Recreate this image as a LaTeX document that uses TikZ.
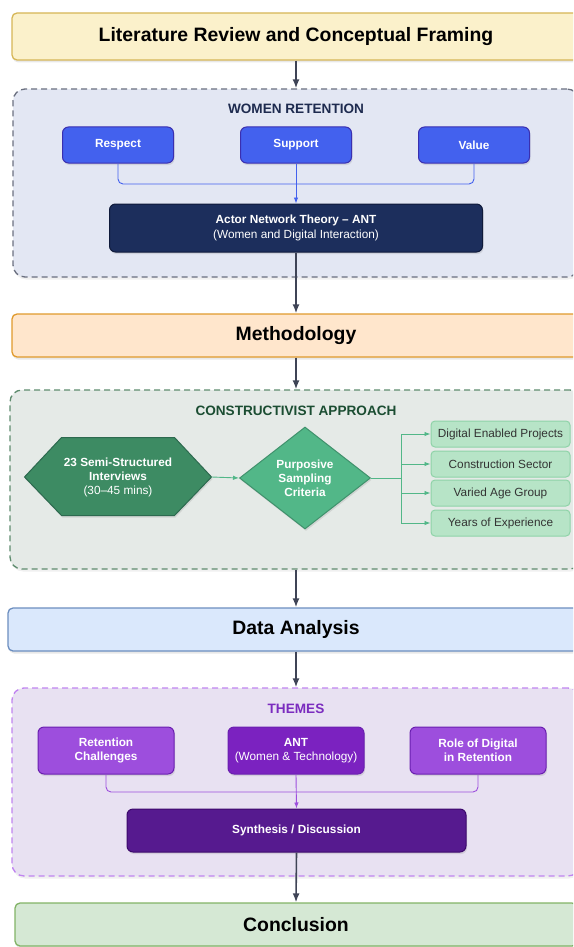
\documentclass[tikz,border=0pt]{standalone}
\usepackage{fontspec}
\setmainfont{Liberation Sans}
\usepackage[usenames,dvipsnames]{xcolor}
\usetikzlibrary{arrows,arrows.meta,shapes.geometric,shadows}

\definecolor{LitFill}{HTML}{FBF1CB}
\definecolor{LitLine}{HTML}{D6B656}
\definecolor{MetFill}{HTML}{FFE6CC}
\definecolor{MetLine}{HTML}{E09A2C}
\definecolor{AnaFill}{HTML}{DAE8FC}
\definecolor{AnaLine}{HTML}{6C8EBF}
\definecolor{ConFill}{HTML}{D5E8D4}
\definecolor{ConLine}{HTML}{82B366}
\definecolor{RetFill}{HTML}{E3E7F3}
\definecolor{RetLine}{HTML}{6B7080}
\definecolor{RetTitle}{HTML}{1E2B4F}
\definecolor{BlueFill}{HTML}{4361EE}
\definecolor{BlueLine}{HTML}{3A2FB0}
\definecolor{NavyFill}{HTML}{1C2E5C}
\definecolor{NavyLine}{HTML}{0F1A3A}
\definecolor{AppFill}{HTML}{E5EAE7}
\definecolor{AppLine}{HTML}{5E8C6E}
\definecolor{AppTitle}{HTML}{1B4D32}
\definecolor{HexFill}{HTML}{3D8B63}
\definecolor{HexLine}{HTML}{2D6A4F}
\definecolor{DiaFill}{HTML}{52B788}
\definecolor{DiaLine}{HTML}{40916C}
\definecolor{CritFill}{HTML}{B7E4C7}
\definecolor{CritLine}{HTML}{8FD3A8}
\definecolor{ThmFill}{HTML}{E8E1F2}
\definecolor{ThmLine}{HTML}{C084F0}
\definecolor{ThmTitle}{HTML}{7B2CBF}
\definecolor{PurFill}{HTML}{9D4EDD}
\definecolor{PurMid}{HTML}{7B22C0}
\definecolor{PurLine}{HTML}{6A1FB0}
\definecolor{PurDark}{HTML}{561A8F}
\definecolor{PurDarkLine}{HTML}{3C096C}
\definecolor{EdgeGray}{HTML}{3F4456}

\tikzset{
  PhaseBox/.style 2 args={rectangle, rounded corners=5pt, fill=#1, draw=#2,
    line width=1.3pt, text=black, font=\fontsize{19.4}{22}\selectfont\bfseries,
    drop shadow={opacity=0.18, shadow xshift=1pt, shadow yshift=-2.5pt}},
  GroupBox/.style 2 args={rectangle, rounded corners=12pt, fill=#1, draw=#2,
    line width=1.3pt, dash pattern=on 6pt off 4pt,
    drop shadow={opacity=0.12, shadow xshift=1pt, shadow yshift=-2.5pt}},
  GroupTitle/.style={text=#1, font=\fontsize{13.6}{16}\selectfont\bfseries},
  InnerBox/.style 2 args={rectangle, rounded corners=6pt, fill=#1, draw=#2,
    line width=1pt, text=white, align=center, inner sep=0pt,
    font=\fontsize{11.8}{14.5}\selectfont,
    drop shadow={opacity=0.2, shadow xshift=1pt, shadow yshift=-2pt}},
  BoldText/.style={font=\fontsize{11.8}{14.5}\selectfont\bfseries},
  CritBox/.style={rectangle, rounded corners=4pt, fill=CritFill, draw=CritLine,
    line width=1pt, text=black!80, minimum width=139pt, minimum height=26pt,
    inner sep=0pt, font=\fontsize{11.8}{13}\selectfont},
  MainEdge/.style={-{Latex[length=9pt,width=7pt]}, line width=1.6pt, draw=EdgeGray},
  JoinEdge/.style={line width=0.9pt, draw=#1, rounded corners=5pt},
  SmallTip/.style={-{Latex[length=6pt,width=4.5pt]}},
}

\begin{document}
\begin{tikzpicture}[x=1pt,y=-1pt]
\useasboundingbox (0,0) rectangle (573,947);
\clip (0,0) rectangle (573,947);

% level 1

\node[PhaseBox={LitFill}{LitLine}, minimum width=568pt, minimum height=47pt] (lit) at (296,36.5) {Literature Review and Conceptual Framing};

\node[GroupBox={RetFill}{RetLine}, minimum width=566pt, minimum height=188pt] (retention) at (296,183) {};
\node[GroupTitle=RetTitle] (rettitle) at (296,109) {WOMEN RETENTION};

\node[InnerBox={BlueFill}{BlueLine}, minimum width=111pt, minimum height=36pt, BoldText] (respect) at (118,145) {Respect};
\node[InnerBox={BlueFill}{BlueLine}, minimum width=111pt, minimum height=36pt, BoldText] (support) at (296,145) {Support};
\node[InnerBox={BlueFill}{BlueLine}, minimum width=111pt, minimum height=36pt, BoldText] (value) at (474,145) {Value};

\node[InnerBox={NavyFill}{NavyLine}, minimum width=373pt, minimum height=48pt] (ant) at (296,228) {\textbf{Actor Network Theory -- ANT}\\(Women and Digital Interaction)};

% level 2

\node[PhaseBox={MetFill}{MetLine}, minimum width=568pt, minimum height=43pt] (method) at (296,335.5) {Methodology};

\node[GroupBox={AppFill}{AppLine}, minimum width=572pt, minimum height=179pt] (approach) at (296,479.5) {};
\node[GroupTitle=AppTitle] (apptitle) at (296,411) {CONSTRUCTIVIST APPROACH};

% hexagon drawn by hand, text node on top
\filldraw[fill=HexFill, draw=HexLine, line width=1pt,
      drop shadow={opacity=0.2, shadow xshift=1pt, shadow yshift=-2pt}]
      (24.5,477) -- (61.5,437.5) -- (174.5,437.5) -- (211.5,477) -- (174.5,515.5) -- (61.5,515.5) -- cycle;
\node[text=white, align=center, minimum width=187pt, minimum height=78pt, inner sep=0pt,
      font=\fontsize{11.8}{14}\selectfont] (interviews) at (118,477)
      {\textbf{23 Semi-Structured}\\\textbf{Interviews}\\(30--45 mins)};

\node[diamond, fill=DiaFill, draw=DiaLine, line width=1pt, text=white, align=center,
      minimum width=131pt, minimum height=102pt, inner sep=0pt,
      font=\fontsize{11.8}{14}\selectfont\bfseries,
      drop shadow={opacity=0.2, shadow xshift=1pt, shadow yshift=-2pt}] (sampling) at (305,478)
      {Purposive\\Sampling\\Criteria};

\node[CritBox] (projects) at (500.5,434) {Digital Enabled Projects};
\node[CritBox] (sector) at (500.5,464) {Construction Sector};
\node[CritBox] (age) at (500.5,493) {Varied Age Group};
\node[CritBox] (years) at (500.5,523) {Years of Experience};

% level 3

\node[PhaseBox={AnaFill}{AnaLine}, minimum width=576pt, minimum height=43pt] (analysis) at (296,629.5) {Data Analysis};

\node[GroupBox={ThmFill}{ThmLine}, minimum width=568pt, minimum height=188pt] (themes) at (296,782) {};
\node[GroupTitle=ThmTitle] (thmtitle) at (296,709) {THEMES};

\node[InnerBox={PurFill}{PurLine}, minimum width=136pt, minimum height=47pt, BoldText] (challenges) at (106,750.5) {Retention\\Challenges};
\node[InnerBox={PurMid}{PurLine}, minimum width=136pt, minimum height=47pt] (anttech) at (296,750.5) {\textbf{ANT}\\(Women \& Technology)};
\node[InnerBox={PurFill}{PurLine}, minimum width=136pt, minimum height=47pt, BoldText] (digital) at (478,750.5) {Role of Digital\\in Retention};

\node[InnerBox={PurDark}{PurDarkLine}, minimum width=339pt, minimum height=43pt, BoldText] (synthesis) at (296.5,830.5) {Synthesis / Discussion};

% level 4

\node[PhaseBox={ConFill}{ConLine}, minimum width=562pt, minimum height=43pt] (conclusion) at (296,924.5) {Conclusion};

% edges between levels

\draw[MainEdge] (lit.south) -- (retention.north);
\draw[MainEdge] (ant.south) -- (method.north);
\draw[MainEdge] (method.south) -- (approach.north);
\draw[MainEdge] (approach.south) -- (analysis.north);
\draw[MainEdge] (analysis.south) -- (themes.north);
\draw[MainEdge] (synthesis.south) -- (conclusion.north);

% edges inside the groups

\coordinate (retjoin) at (296,184);
\draw[JoinEdge=BlueFill] (respect.south) |- (retjoin);
\draw[JoinEdge=BlueFill] (value.south) |- (retjoin);
\draw[JoinEdge=BlueFill, SmallTip] (support.south) -- (ant.north);

\draw[JoinEdge=DiaFill, SmallTip] (interviews.east) -- (sampling.west);
\coordinate (trunk) at (401,478);
\draw[JoinEdge=DiaFill, rounded corners=0pt] (sampling.east) -- (trunk);
\draw[JoinEdge=DiaFill, rounded corners=0pt, SmallTip] (trunk) |- (projects.west);
\draw[JoinEdge=DiaFill, rounded corners=0pt, SmallTip] (trunk) |- (sector.west);
\draw[JoinEdge=DiaFill, rounded corners=0pt, SmallTip] (trunk) |- (age.west);
\draw[JoinEdge=DiaFill, rounded corners=0pt, SmallTip] (trunk) |- (years.west);

\coordinate (thmjoin) at (296,792);
\draw[JoinEdge=PurFill] (challenges.south) |- (thmjoin);
\draw[JoinEdge=PurFill] (digital.south) |- (thmjoin);
\draw[JoinEdge=PurFill, SmallTip] (anttech.south) -- (synthesis.north);

\end{tikzpicture}
\end{document}
